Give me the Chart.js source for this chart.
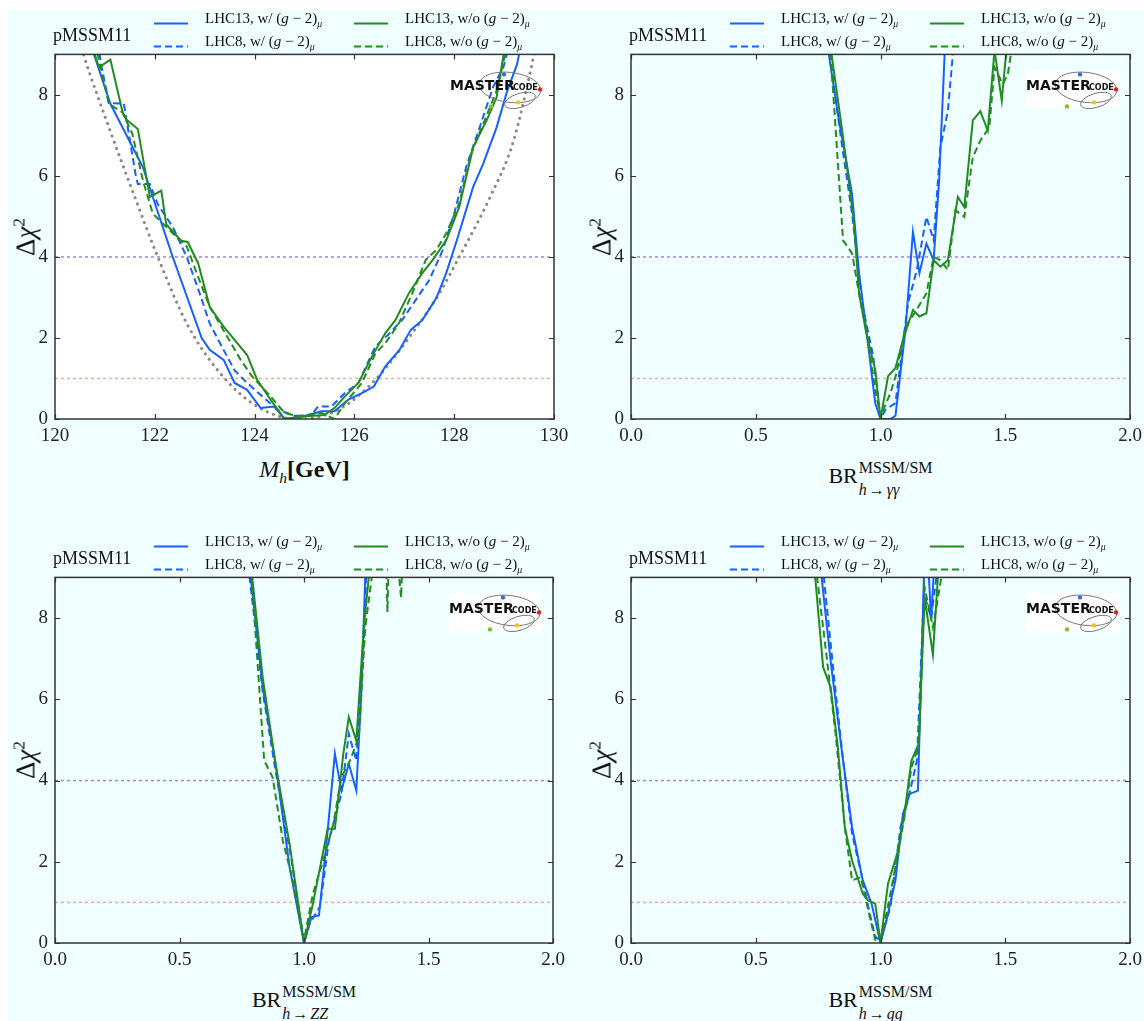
<!DOCTYPE html>
<html>
<head>
<meta charset="utf-8">
<script src="https://cdn.jsdelivr.net/npm/chart.js@4.4.1/dist/chart.umd.min.js"></script>
<style>
  body { margin:0; width:1144px; height:1021px; overflow:hidden; background:#fff; position:relative; font-family:"Liberation Serif", serif; color:#111; }
  #fig { position:absolute; left:8px; top:10px; width:1136px; height:1011px; background:#f0ffff; }
  canvas { position:absolute; }
  .lbl { position:absolute; white-space:nowrap; line-height:1; }
  .tag { font-size:18px; transform:translateY(-50%); }
  .leg { font-size:15px; transform:translateY(-50%); }
  .ytitle { font-size:27px; transform:translate(-50%,-50%) rotate(-90deg); }
  .xtitle { transform:translate(-50%,-50%); }
  .leg sub { font-size:65%; }
  .ss { display:inline-flex; flex-direction:column; gap:6px; font-size:16px; line-height:1; vertical-align:middle; margin-left:1px; }
  .ar { margin:0 2px; }
</style>
</head>
<body>
<div id="fig"></div>
<script>
// Δχ² profiles, [x, Δχ²] pairs

// M_h panel
const mhLhc13With = [[120.70,9.3],[121.11,7.78],[121.76,6.22],[122.36,4.0],[122.94,2.0],[123.1,1.71],[123.38,1.46],[123.6,0.89],[123.85,0.72],[124.12,0.27],[124.39,0.31],[124.6,0],[125.0,0.07],[125.34,0.19],[125.6,0.19],[125.88,0.48],[126.15,0.64],[126.39,0.8],[126.62,1.3],[126.9,1.7],[127.13,2.2],[127.36,2.44],[127.64,2.98],[127.84,3.6],[128.05,4.4],[128.38,5.73],[128.58,6.3],[128.85,7.2],[129.05,8.05],[129.26,8.76],[129.35,9.3]];
const mhLhc8With = [[120.85,9.3],[120.95,8.6],[121.08,7.8],[121.38,7.78],[121.62,6.0],[121.66,5.8],[121.9,5.8],[122.06,5.3],[122.36,4.74],[122.64,4.0],[122.9,3.1],[123.1,2.36],[123.38,1.7],[123.6,1.2],[123.85,0.89],[124.19,0.52],[124.46,0.23],[124.8,0.08],[125.13,0.08],[125.27,0.31],[125.54,0.31],[125.81,0.64],[126.08,0.89],[126.42,1.79],[126.69,2.1],[126.96,2.45],[127.23,2.94],[127.5,3.43],[127.77,4.17],[128.0,5.07],[128.24,6.22],[128.51,7.2],[128.78,8.2],[128.99,8.7],[129.12,9.3]];
const mhLhc13Without = [[120.72,9.3],[120.88,8.68],[121.11,8.87],[121.35,7.6],[121.42,7.4],[121.66,7.16],[121.9,5.48],[122.13,5.64],[122.23,4.8],[122.53,4.4],[122.66,4.37],[122.87,3.84],[123.1,2.77],[123.38,2.28],[123.85,1.58],[124.05,0.97],[124.32,0.48],[124.6,0],[125.0,0.07],[125.4,0.1],[125.6,0.27],[125.81,0.56],[126.08,0.89],[126.35,1.54],[126.62,2.12],[126.82,2.44],[127.09,3.1],[127.36,3.6],[127.57,3.93],[127.84,4.41],[128.1,5.23],[128.38,6.71],[128.65,7.37],[128.85,7.94],[128.99,9.0],[129.03,9.3]];
const mhLhc8Without = [[120.8,9.3],[121.08,7.78],[121.35,7.57],[121.55,7.04],[121.76,5.9],[121.96,5.07],[122.23,4.74],[122.43,4.5],[122.64,4.26],[122.84,3.6],[123.1,2.77],[123.41,2.12],[123.72,1.46],[123.95,1.05],[124.32,0.56],[124.6,0.15],[124.86,0.07],[125.34,0.15],[125.6,0],[125.81,0.39],[126.15,0.89],[126.42,1.62],[126.62,1.87],[126.89,2.36],[127.16,3.1],[127.43,3.93],[127.64,4.17],[127.84,4.58],[128.1,5.32],[128.34,6.55],[128.58,7.28],[128.85,8.1],[129.02,9.0],[129.06,9.3]];
const mhGray = [[120.5,9.3],[120.57,9.0],[121.08,7.2],[121.55,5.64],[122.06,4.0],[122.64,2.36],[123.31,1.13],[124.05,0.31],[124.86,0],[125.68,0.23],[126.42,0.97],[127.16,2.12],[127.7,3.1],[128.1,4.0],[128.72,5.48],[129.19,6.87],[129.6,9.0],[129.65,9.3]];

// h -> γγ panel
const aaLhc13With = [[0.79,9.3],[0.793,9],[0.829,7.53],[0.886,5.56],[0.914,3.6],[0.943,2.2],[0.979,0.39],[1.0,0],[1.04,0],[1.06,0.08],[1.1,2.2],[1.13,4.62],[1.156,3.6],[1.184,4.33],[1.213,3.92],[1.235,5.89],[1.257,9],[1.26,9.3]];
const aaLhc8With = [[0.79,9.3],[0.843,6.87],[0.886,5.07],[0.929,2.77],[0.971,1.54],[1.0,0],[1.02,0.23],[1.06,0.39],[1.11,2.85],[1.146,3.69],[1.184,4.99],[1.213,4.41],[1.24,6.71],[1.27,7.6],[1.29,9],[1.295,9.3]];
const aaLhc13Without = [[0.797,9.3],[0.85,6.96],[0.893,4.9],[0.914,3.1],[0.943,2.12],[0.979,1.21],[1.0,0],[1.03,1.05],[1.06,1.26],[1.09,1.95],[1.13,2.69],[1.156,2.53],[1.184,2.61],[1.213,3.92],[1.24,3.76],[1.27,3.92],[1.31,5.48],[1.336,5.23],[1.37,7.37],[1.4,7.6],[1.43,7.12],[1.457,9.1],[1.486,7.86],[1.5,8.8],[1.51,9.3]];
const aaLhc8Without = [[0.797,9.3],[0.85,4.41],[0.886,4.09],[0.914,3.1],[0.95,1.95],[0.979,0.72],[1.0,0.07],[1.04,0.64],[1.064,1.13],[1.1,2.28],[1.136,2.61],[1.184,3.1],[1.213,4.0],[1.24,3.92],[1.27,3.68],[1.3,5.15],[1.336,4.99],[1.37,6.46],[1.4,6.87],[1.436,7.2],[1.457,8.68],[1.49,8.27],[1.51,8.5],[1.53,9.3]];

// h -> ZZ panel
const zzLhc13With = [[0.782,9.3],[0.786,9],[0.834,6.3],[0.888,4.33],[0.942,1.87],[1.0,0],[1.03,0.64],[1.06,0.68],[1.09,2.44],[1.124,4.66],[1.15,3.75],[1.18,4.41],[1.21,3.75],[1.23,6.13],[1.246,9],[1.25,9.3]];
const zzLhc8With = [[0.776,9.3],[0.834,6.2],[0.888,4.16],[0.95,2.03],[1.0,0],[1.023,0.48],[1.064,0.89],[1.1,2.52],[1.15,3.67],[1.18,5.15],[1.21,4.49],[1.24,7.36],[1.25,9],[1.255,9.3]];
const zzLhc13Without = [[0.787,9.3],[0.834,6.54],[0.888,4.33],[0.942,2.44],[1.0,0],[1.036,0.97],[1.095,2.81],[1.124,2.81],[1.158,4.66],[1.18,5.56],[1.21,4.98],[1.24,7.77],[1.26,9],[1.264,9.3]];
const zzLhc8Without = [[0.787,9.3],[0.84,4.49],[0.874,4.08],[0.915,2.52],[0.955,1.54],[1.0,0.07],[1.036,1.21],[1.077,2.03],[1.118,2.93],[1.15,4.08],[1.185,4.49],[1.22,5.07],[1.246,7.77],[1.272,9],[1.3,9.8],[1.33,9.4],[1.335,8.15],[1.34,9.4],[1.37,9.8],[1.39,8.5],[1.395,9.4],[1.42,9.8]];

// h -> gg panel
const ggLhc13With = [[0.762,9.3],[0.764,9],[0.8,6.95],[0.843,4.82],[0.886,2.85],[0.929,1.54],[0.964,0.97],[1.0,0],[1.024,0.56],[1.06,1.54],[1.09,3.18],[1.117,3.67],[1.15,3.75],[1.174,9],[1.19,9.5],[1.203,7.95],[1.215,9.3]];
const ggLhc8With = [[0.768,9.3],[0.814,6.54],[0.85,4.49],[0.886,2.69],[0.929,1.54],[0.957,0.72],[0.979,0.15],[1.0,0.07],[1.04,0.89],[1.08,2.85],[1.11,3.51],[1.146,4.49],[1.174,8.6],[1.203,8.0],[1.224,9],[1.228,9.3]];
const ggLhc13Without = [[0.734,9.3],[0.77,6.79],[0.8,6.3],[0.829,4.82],[0.857,2.85],[0.886,2.03],[0.929,1.21],[0.95,1.05],[0.979,0.97],[1.0,0],[1.03,1.46],[1.067,2.2],[1.096,3.18],[1.124,4.49],[1.153,4.9],[1.177,8.5],[1.21,7.1],[1.23,9],[1.234,9.3]];
const ggLhc8Without = [[0.74,9.3],[0.786,6.95],[0.82,5.15],[0.857,2.85],[0.886,1.54],[0.921,1.62],[0.957,0.64],[0.979,0.08],[1.0,0.07],[1.024,0.72],[1.06,1.87],[1.096,3.1],[1.124,4.33],[1.153,4.82],[1.177,8.75],[1.21,7.77],[1.244,9],[1.248,9.3]];

const seriesLabels = ['LHC13, w/', 'LHC8, w/', 'LHC13, w/o', 'LHC8, w/o'];
const seriesColors = ['#1560ff', '#1560ff', '#228b22', '#228b22'];
const seriesDashed = [false, true, false, true];
const refLevels = [4, 1];
const refColors = ['rgba(147,112,219,0.85)', 'rgba(255,150,100,0.8)'];
const yTicks = [0, 2, 4, 6, 8];
const mhTicks = [120, 122, 124, 126, 128, 130];
const brTicks = [0, 0.5, 1, 1.5, 2];

const panels = [
  { box: [55, 54, 554, 419], xr: [120, 130], xt: mhTicks, dec: 0, white: true,
    data: [mhLhc13With, mhLhc8With, mhLhc13Without, mhLhc8Without], gray: mhGray,
    xtitle: '<span style="font-size:24px"><i>M</i><sub style="font-size:65%"><i>h</i></sub><b>[GeV]</b></span>' },
  { box: [631, 54, 1130, 419], xr: [0, 2], xt: brTicks, dec: 1,
    data: [aaLhc13With, aaLhc8With, aaLhc13Without, aaLhc8Without], decay: '<i>h</i><span class="ar">→</span><i>γγ</i>' },
  { box: [55, 577, 553, 943], xr: [0, 2], xt: brTicks, dec: 1,
    data: [zzLhc13With, zzLhc8With, zzLhc13Without, zzLhc8Without], decay: '<i>h</i><span class="ar">→</span><i>ZZ</i>' },
  { box: [631, 577, 1130, 943], xr: [0, 2], xt: brTicks, dec: 1,
    data: [ggLhc13With, ggLhc8With, ggLhc13Without, ggLhc8Without], decay: '<i>h</i><span class="ar">→</span><i>gg</i>' }
];

const serifFamily = '"Liberation Serif", "Times New Roman", serif';
Chart.defaults.font.family = serifFamily;

function drawLogo(ctx, a, boxed) {
  const x0 = a.right - 104, t = a.top;
  ctx.save();
  if (boxed) { ctx.fillStyle = '#fff'; ctx.fillRect(x0, t + 16, 93, 38); }
  ctx.strokeStyle = '#777'; ctx.lineWidth = 1;
  ctx.beginPath(); ctx.ellipse(x0 + 60, t + 33, 31, 15, 0.12, 0, 2 * Math.PI); ctx.stroke();
  ctx.beginPath(); ctx.ellipse(x0 + 70, t + 46, 16, 7, -0.3, 0, 2 * Math.PI); ctx.stroke();
  ctx.fillStyle = '#111'; ctx.textBaseline = 'alphabetic';
  ctx.font = 'bold 14px "DejaVu Sans"'; ctx.fillText('MASTER', x0, t + 36);
  ctx.font = 'bold 8px "DejaVu Sans"'; ctx.fillText('CODE', x0 + 63, t + 36);
  [['#3a6fd0', 54, 20], ['#e02020', 90, 35], ['#f0c020', 68, 48], ['#80c030', 41, 52]].forEach(([c, dx, dy]) => {
    ctx.fillStyle = c; ctx.beginPath(); ctx.arc(x0 + dx, t + dy, 2.2, 0, 2 * Math.PI); ctx.fill();
  });
  ctx.restore();
}

const framePlugin = {
  id: 'frame',
  beforeDatasetsDraw(chart, args, opts) {
    const a = chart.chartArea;
    if (opts.white) { chart.ctx.save(); chart.ctx.fillStyle = '#fff'; chart.ctx.fillRect(a.left, a.top, a.width, a.height); chart.ctx.restore(); }
  },
  afterDraw(chart, args, opts) {
    const a = chart.chartArea, ctx = chart.ctx, sx = chart.scales.x, sy = chart.scales.y;
    drawLogo(ctx, a, !opts.white);
    ctx.save();
    ctx.strokeStyle = '#333'; ctx.lineWidth = 1.2;
    ctx.beginPath();
    sx.ticks.forEach(tk => {
      const px = Math.round(sx.getPixelForValue(tk.value)) + 0.5;
      ctx.moveTo(px, a.bottom); ctx.lineTo(px, a.bottom - 5);
      ctx.moveTo(px, a.top); ctx.lineTo(px, a.top + 5);
    });
    sy.ticks.forEach(tk => {
      const py = Math.round(sy.getPixelForValue(tk.value)) + 0.5;
      ctx.moveTo(a.left, py); ctx.lineTo(a.left + 5, py);
      ctx.moveTo(a.right, py); ctx.lineTo(a.right - 5, py);
    });
    ctx.stroke();
    ctx.lineWidth = 1.5;
    ctx.strokeRect(a.left, a.top, a.width, a.height);
    ctx.restore();
  }
};

const toXY = d => d.map(([x, y]) => ({ x, y }));
const tickFont = { family: serifFamily, size: 19 };

function addLabel(html, cls, x, y) {
  const d = document.createElement('div');
  d.className = 'lbl ' + cls;
  d.innerHTML = html;
  d.style.left = x + 'px';
  d.style.top = y + 'px';
  document.body.appendChild(d);
}

function buildChart(cv, p) {
  const ds = [];
  refLevels.forEach((lv, k) => ds.push({
    data: [{ x: p.xr[0], y: lv }, { x: p.xr[1], y: lv }],
    borderColor: refColors[k], borderWidth: 1.5, borderDash: [3, 3], order: 9
  }));
  if (p.gray) ds.push({
    data: toXY(p.gray), borderColor: '#888', borderWidth: 3, borderDash: [0.1, 6.5],
    borderCapStyle: 'round', cubicInterpolationMode: 'monotone', order: 8
  });
  p.data.forEach((d, k) => ds.push({
    data: toXY(d), borderColor: seriesColors[k], borderWidth: 2,
    borderDash: seriesDashed[k] ? [7, 4] : [], order: 4 - k
  }));

  return new Chart(cv, {
    type: 'line',
    data: { datasets: ds },
    options: {
      responsive: false, animation: false, devicePixelRatio: 1,
      layout: { padding: { left: 0, top: 10, right: 24, bottom: 0 } },
      elements: { point: { radius: 0 }, line: { tension: 0, fill: false } },
      plugins: { legend: { display: false }, tooltip: { enabled: false }, frame: { white: !!p.white } },
      scales: {
        x: {
          type: 'linear', min: p.xr[0], max: p.xr[1],
          afterBuildTicks: s => { s.ticks = p.xt.map(v => ({ value: v })); },
          afterFit: s => { s.height = 34; },
          grid: { display: false, drawTicks: false }, border: { display: false },
          ticks: { font: tickFont, color: '#222', padding: 6, maxRotation: 0, autoSkip: false,
                   callback: v => v.toFixed(p.dec) }
        },
        y: {
          type: 'linear', min: 0, max: 9,
          afterBuildTicks: s => { s.ticks = yTicks.map(v => ({ value: v })); },
          afterFit: s => { s.width = 50; },
          grid: { display: false, drawTicks: false }, border: { display: false },
          ticks: { font: tickFont, color: '#222', padding: 7, autoSkip: false }
        }
      }
    },
    plugins: [framePlugin]
  });
}

panels.forEach(p => {
  const [L, T, R, B] = p.box;
  const cv = document.createElement('canvas');
  let w = R - L + 74, h = B - T + 44;
  cv.width = w; cv.height = h;
  document.body.appendChild(cv);
  let chart = buildChart(cv, p);
  // grow the canvas so the plot area gets the wanted size, then place it
  const ca = chart.chartArea;
  w += (R - L) - (ca.right - ca.left);
  h += (B - T) - (ca.bottom - ca.top);
  chart.destroy();
  cv.width = w; cv.height = h;
  chart = buildChart(cv, p);
  cv.style.left = (L - chart.chartArea.left) + 'px';
  cv.style.top = (T - chart.chartArea.top) + 'px';

  // legend and titles
  addLabel('pMSSM11', 'tag', L - 2, T - 19);
  seriesLabels.forEach((lab, k) => {
    const col = k >> 1, row = k & 1;
    const lx = L + 99 + col * 200, ly = T - 34 + row * 23;
    const dash = seriesDashed[k] ? ' stroke-dasharray="7 4"' : '';
    addLabel('<svg width="34" height="4"><line x1="0" y1="2" x2="34" y2="2" stroke="' + seriesColors[k] + '" stroke-width="2"' + dash + '/></svg>', 'leg', lx, ly + 1);
    addLabel(lab + ' (<i>g</i> − 2)<sub><i>μ</i></sub>', 'leg', lx + 51, ly);
  });
  addLabel('Δ<i>χ</i><sup style="font-size:65%">2</sup>', 'ytitle', L - 30, (T + B) / 2);
  if (p.xtitle) addLabel(p.xtitle, 'xtitle', (L + R) / 2, B + 52);
  else addLabel('<span style="font-size:22px">BR</span><span class="ss"><span>MSSM/SM</span><span>' + p.decay + '</span></span>', 'xtitle', (L + R) / 2, B + 60);
});
</script>
</body>
</html>
